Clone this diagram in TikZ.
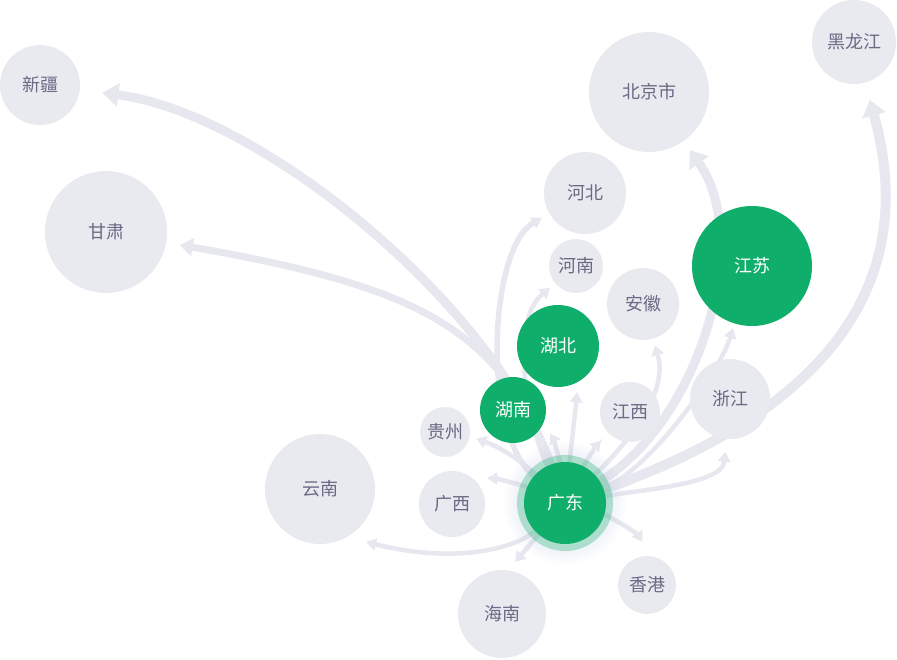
\documentclass[tikz,border=0pt]{standalone}
\usepackage{fontspec}
\newfontfamily\cnfont{Noto Sans CJK SC}
\usetikzlibrary{arrows.meta, backgrounds}
\definecolor{provgray}{RGB}{233,234,240}
\definecolor{flowgray}{RGB}{230,231,239}
\definecolor{labelgray}{RGB}{104,107,132}
\definecolor{provgreen}{RGB}{16,174,107}
\definecolor{glowblue}{RGB}{196,208,230}

\begin{document}
\begin{tikzpicture}[
        x=1pt, y=-1pt,
        provnode/.style={shape=circle, fill=provgray, text=labelgray, inner sep=0pt, outer sep=0pt, minimum size=#1, font=\cnfont\fontsize{18pt}{20pt}\selectfont},
        hotnode/.style={provnode=#1, fill=provgreen, text=white},
        haloring/.style={shape=circle, fill=provgreen, fill opacity=0.3, inner sep=0pt, minimum size=96pt},
        flowbig/.style={draw=flowgray, line width=9pt, -{Triangle[length=16pt, width=24pt, line width=0pt]}},
        flowmid/.style={draw=flowgray, line width=7pt, -{Triangle[length=13pt, width=19pt, line width=0pt]}},
        flowsmall/.style={draw=flowgray, line width=4.5pt, -{Triangle[length=10pt, width=13pt, line width=0pt]}}
        ]
        \useasboundingbox (0,0) rectangle (897,659);

        %% Glow and ring round the source
        \foreach \r in {49,52,...,61} {
            \fill[glowblue, opacity=0.06] (565,503) circle (\r pt);
        }
        \node[haloring] (gdring) at (565,503) {};

        %% Provinces
        \node[hotnode=82pt] (gd) at (565,503) {广东};
        \node[provnode=80pt] (xj) at (40,85) {新疆};
        \node[provnode=122pt] (gs) at (106,232) {甘肃};
        \node[provnode=120pt] (bj) at (649,92) {北京市};
        \node[provnode=84pt] (hlj) at (854,42) {黑龙江};
        \node[provnode=82pt] (hb) at (585,193) {河北};
        \node[provnode=54pt] (hn) at (576,266) {河南};
        \node[provnode=72pt] (ah) at (643,304) {安徽};
        \node[hotnode=120pt] (js) at (752,266) {江苏};
        \node[hotnode=82pt] (hub) at (558,346) {湖北};
        \node[hotnode=66pt] (hun) at (513,410) {湖南};
        \node[provnode=60pt] (jx) at (630,412) {江西};
        \node[provnode=80pt] (zj) at (730,399) {浙江};
        \node[provnode=50pt] (gz) at (445,432) {贵州};
        \node[provnode=66pt] (gx) at (452,504) {广西};
        \node[provnode=110pt] (yn) at (320,489) {云南};
        \node[provnode=88pt] (hain) at (502,614) {海南};
        \node[provnode=58pt] (xg) at (647,585) {香港};

        %% Flows out of Guangdong
        \begin{pgfonlayer}{background}
        \draw[flowbig, shorten >=23pt] (gd) .. controls (490,300) and (258,113) .. (xj.-7);
        \draw[flowmid, shorten >=14pt] (gd) .. controls (500,330) and (421,287) .. (gs.-10);
        \draw[flowbig, shorten >=11pt] (gd) .. controls (700,420) and (753,239) .. (bj.-55);
        \draw[flowbig, line width=10pt, shorten >=18pt] (gd) .. controls (800,420) and (926,302) .. (hlj.-75);
        \draw[flowsmall, line width=5.5pt, shorten >=9pt] (gd) .. controls (480,430) and (490,248) .. (hb.-150);
        \draw[flowsmall, shorten >=7pt] (gd) .. controls (530,430) and (507,324) .. (hn.-140);
        \draw[flowsmall, shorten >=7pt] (gd) .. controls (610,460) and (671,400) .. (ah.-74);
        \draw[flowsmall, shorten >=5pt] (gd) .. controls (650,470) and (720,371) .. (js.-107);
        \draw[flowsmall, shorten >=13pt] (gd) .. controls (640,490) and (722,484) .. (zj.-95);
        \draw[flowsmall, shorten >=20pt] (gd) .. controls (520,545) and (463,566) .. (yn.-61);
        \draw[flowsmall, shorten >=11pt] (gd) -- (hub.-60);
        \draw[flowsmall, shorten >=13pt] (gd) to[bend right=8] (hun.-22);
        \draw[flowsmall, shorten >=7pt] (gd) to[bend right=10] (gz.-10);
        \draw[flowsmall, shorten >=15pt] (gd) to[bend right=8] (gx.52);
        \draw[flowsmall, shorten >=11pt] (gd) to[bend left=5] (jx.-137);
        \draw[flowsmall, shorten >=11pt] (gd) -- (hain.82);
        \draw[flowsmall, shorten >=18pt] (gd) to[bend left=15] (xg.79);
        \end{pgfonlayer}
\end{tikzpicture}
\end{document}
